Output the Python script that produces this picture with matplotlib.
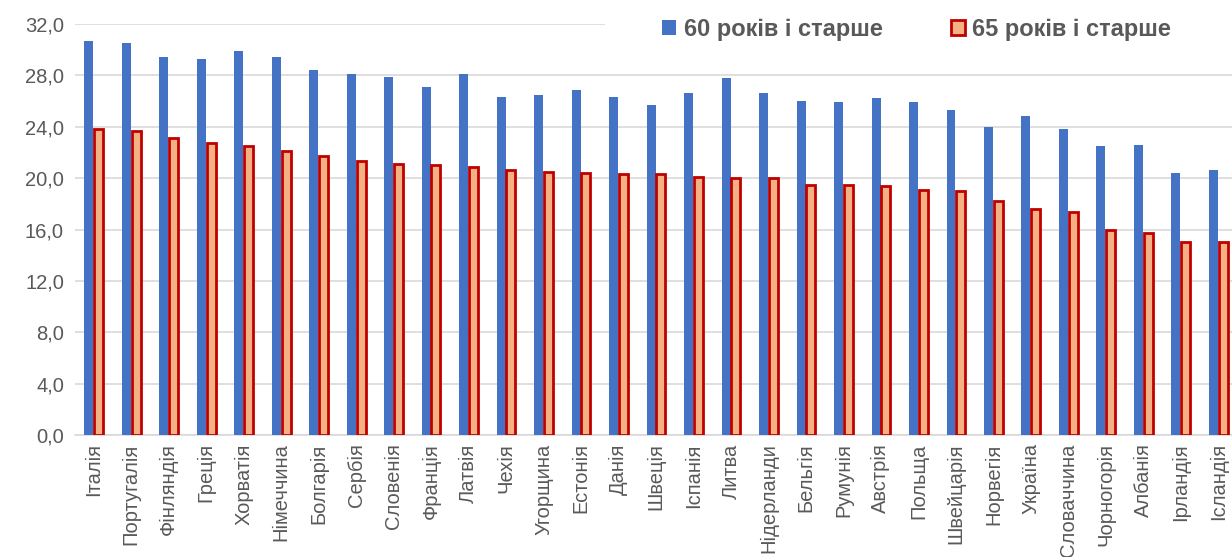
import numpy as np
import matplotlib.pyplot as plt
from matplotlib.patches import Rectangle

plt.rcParams['font.family'] = ['Liberation Sans', 'DejaVu Sans']

countries = ['Італія', 'Португалія', 'Фінляндія', 'Греція', 'Хорватія', 'Німеччина',
             'Болгарія', 'Сербія', 'Словенія', 'Франція', 'Латвія', 'Чехія', 'Угорщина',
             'Естонія', 'Данія', 'Швеція', 'Іспанія', 'Литва', 'Нідерланди', 'Бельгія',
             'Румунія', 'Австрія', 'Польща', 'Швейцарія', 'Норвегія', 'Україна',
             'Словаччина', 'Чорногорія', 'Албанія', 'Ірландія', 'Ісландія']
age60 = [30.7, 30.5, 29.4, 29.3, 29.9, 29.4, 28.4, 28.1, 27.9, 27.1, 28.1, 26.3, 26.5,
         26.9, 26.3, 25.7, 26.6, 27.8, 26.6, 26.0, 25.9, 26.2, 25.9, 25.3, 24.0, 24.8,
         23.8, 22.5, 22.6, 20.4, 20.6]
age65 = [23.8, 23.7, 23.1, 22.7, 22.5, 22.1, 21.7, 21.3, 21.1, 21.0, 20.9, 20.6, 20.5,
         20.4, 20.3, 20.3, 20.1, 20.0, 20.0, 19.5, 19.5, 19.4, 19.1, 19.0, 18.2, 17.6,
         17.4, 16.0, 15.7, 15.0, 15.0]
yticks = [0, 4, 8, 12, 16, 20, 24, 28, 32]

grey = '#595959'
fig = plt.figure(figsize=(12.32, 5.57), dpi=100)
ax = fig.add_axes([75 / 1232, 122 / 557, 1162 / 1232, 411 / 557])

x = np.arange(len(countries))
w = 0.24
ax.bar(x - 0.13, age60, width=w, color='#4472C4', label='60 років і старше', zorder=3)
ax.bar(x + 0.13, age65, width=w, color='#F4B183', edgecolor='#C00000', linewidth=2,
       label='65 років і старше', zorder=3)

ax.set_xlim(-0.5, len(countries) - 0.5)
ax.set_ylim(0, 32)
ax.set_yticks(yticks)
ax.set_yticklabels([f'{v:.1f}'.replace('.', ',') for v in yticks])
ax.set_xticks(x)
ax.set_xticklabels(countries, rotation=90)
ax.tick_params(axis='both', length=0, colors=grey, labelsize=14.5)
ax.tick_params(axis='x', pad=6)
ax.tick_params(axis='y', pad=8)
ax.grid(axis='y', color='#D9D9D9', linewidth=1.2, zorder=0)
for s in ['top', 'right', 'left']:
    ax.spines[s].set_visible(False)
ax.spines['bottom'].set_color('#D9D9D9')
ax.spines['bottom'].set_linewidth(1.2)

# white box behind the legend hides the top gridline
fig.patches.append(Rectangle((605 / 1232, 1 - 68 / 557), 1, 68 / 557,
                             transform=fig.transFigure, facecolor='white',
                             edgecolor='none', zorder=5))
leg = fig.legend(loc='upper left', bbox_to_anchor=(641 / 1232, 1 + 3 / 557), ncol=2,
                 frameon=False, handlelength=0.6, handleheight=0.6, handletextpad=0.3,
                 columnspacing=2.9,
                 prop={'weight': 'bold', 'size': 17,
                       'family': ['Liberation Sans Narrow', 'Liberation Sans']})
leg.set_zorder(6)
for t in leg.get_texts():
    t.set_color(grey)

fig.savefig('out.png', dpi=100)
